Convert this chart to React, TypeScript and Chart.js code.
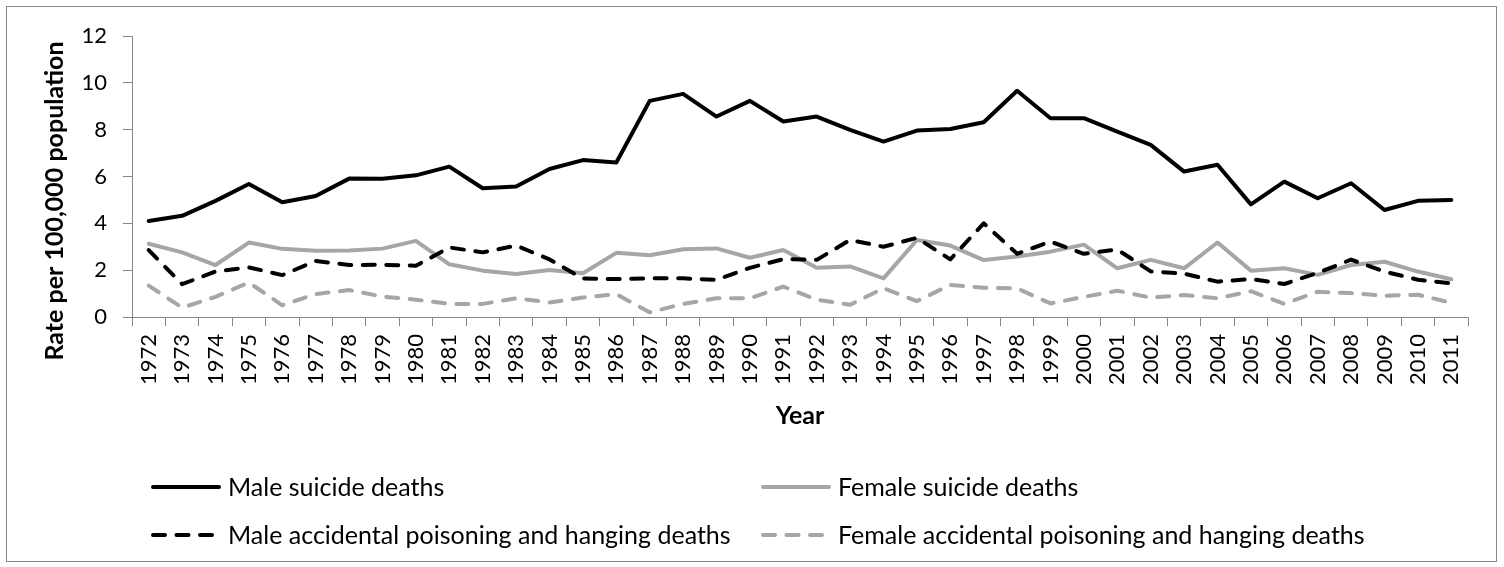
import React, { useEffect, useRef } from "react";
import { Chart, registerables } from "chart.js";

Chart.register(...registerables);

const years = [
  "1972", "1973", "1974", "1975", "1976", "1977", "1978", "1979", "1980", "1981",
  "1982", "1983", "1984", "1985", "1986", "1987", "1988", "1989", "1990", "1991",
  "1992", "1993", "1994", "1995", "1996", "1997", "1998", "1999", "2000", "2001",
  "2002", "2003", "2004", "2005", "2006", "2007", "2008", "2009", "2010", "2011",
];

const maleSuicide = [
  4.1, 4.32, 4.96, 5.68, 4.9, 5.17, 5.91, 5.9, 6.05, 6.42,
  5.5, 5.57, 6.32, 6.7, 6.6, 9.23, 9.53, 8.56, 9.23, 8.35,
  8.56, 7.99, 7.49, 7.96, 8.03, 8.32, 9.66, 8.49, 8.49, 7.92,
  7.35, 6.21, 6.5, 4.81, 5.78, 5.07, 5.71, 4.57, 4.96, 5.0,
];

const femaleSuicide = [
  3.13, 2.76, 2.22, 3.18, 2.91, 2.83, 2.84, 2.92, 3.25, 2.25,
  1.98, 1.84, 2.01, 1.87, 2.74, 2.64, 2.89, 2.93, 2.53, 2.86,
  2.1, 2.16, 1.65, 3.29, 3.05, 2.43, 2.58, 2.79, 3.09, 2.08,
  2.44, 2.08, 3.18, 1.98, 2.08, 1.8, 2.22, 2.36, 1.94, 1.61,
];

const maleAccidental = [
  2.86, 1.4, 1.94, 2.12, 1.79, 2.39, 2.22, 2.23, 2.19, 2.97,
  2.76, 3.05, 2.46, 1.64, 1.62, 1.65, 1.65, 1.59, 2.1, 2.47,
  2.44, 3.29, 3.0, 3.38, 2.46, 4.0, 2.7, 3.22, 2.7, 2.88,
  1.95, 1.85, 1.51, 1.62, 1.41, 1.88, 2.45, 1.94, 1.59, 1.44,
];

const femaleAccidental = [
  1.34, 0.4, 0.86, 1.47, 0.5, 0.98, 1.15, 0.87, 0.74, 0.56,
  0.56, 0.8, 0.62, 0.83, 0.98, 0.2, 0.56, 0.8, 0.8, 1.3,
  0.74, 0.52, 1.23, 0.68, 1.37, 1.25, 1.22, 0.58, 0.86, 1.12,
  0.83, 0.94, 0.8, 1.1, 0.56, 1.08, 1.02, 0.91, 0.95, 0.61,
];

const seriesNames = [
  "Male suicide deaths",
  "Female suicide deaths",
  "Male accidental poisoning and hanging deaths",
  "Female accidental poisoning and hanging deaths",
];

const yTicks = [0, 2, 4, 6, 8, 10, 12];

const BLACK = "#000000";
const GRAY = "#A6A6A6";
const AXIS = "#868686";
const FONT = "Lato, 'Open Sans', sans-serif";
const DASH = [12, 11.5];

const seriesStyles = [
  { color: BLACK, dash: [] as number[] },
  { color: GRAY, dash: [] as number[] },
  { color: BLACK, dash: DASH },
  { color: GRAY, dash: DASH },
];

const decorPlugin = {
  id: "decor",
  beforeDraw(chart: any) {
    const ctx = chart.ctx;
    ctx.save();
    ctx.fillStyle = "#ffffff";
    ctx.fillRect(0, 0, chart.width, chart.height);
    ctx.strokeStyle = AXIS;
    ctx.lineWidth = 1;
    ctx.strokeRect(6.5, 6.5, 1490, 555);
    ctx.restore();
  },
  afterDraw(chart: any) {
    const ctx = chart.ctx;
    const area = chart.chartArea;
    ctx.save();
    ctx.fillStyle = "#000000";
    ctx.font = `bold 25px ${FONT}`;
    ctx.textAlign = "center";
    ctx.textBaseline = "middle";
    // y title
    ctx.save();
    ctx.translate(55, 201);
    ctx.rotate(-Math.PI / 2);
    ctx.fillText("Rate per 100,000 population", 0, 0);
    ctx.restore();
    // x title
    ctx.fillText("Year", (area.left + area.right) / 2, 416);

    // legend
    const cols = [151, 761];
    const rows = [487, 535];
    ctx.font = `25px ${FONT}`;
    ctx.textAlign = "left";
    seriesNames.forEach((name, i) => {
      const cx = cols[i % 2];
      const cy = rows[Math.floor(i / 2)];
      const st = seriesStyles[i];
      ctx.save();
      ctx.strokeStyle = st.color;
      ctx.lineWidth = 4;
      ctx.lineCap = "round";
      ctx.setLineDash(st.dash);
      ctx.beginPath();
      if (st.dash.length) {
        ctx.moveTo(cx + 2, cy);
        ctx.lineTo(cx + 61, cy);
      } else {
        ctx.moveTo(cx + 2, cy);
        ctx.lineTo(cx + 68, cy);
      }
      ctx.stroke();
      ctx.restore();
      ctx.fillText(name, cx + 77, cy + 1);
    });
    ctx.restore();
  },
};

export default function App() {
  const ref = useRef<HTMLCanvasElement | null>(null);

  useEffect(() => {
    if (!ref.current) return;
    const data = [maleSuicide, femaleSuicide, maleAccidental, femaleAccidental];
    const chart = new Chart(ref.current, {
      type: "line",
      data: {
        labels: years,
        datasets: data.map((d, i) => ({
          label: seriesNames[i],
          data: d,
          borderColor: seriesStyles[i].color,
          backgroundColor: seriesStyles[i].color,
          borderWidth: 4,
          borderDash: seriesStyles[i].dash,
          borderCapStyle: "round",
          borderJoinStyle: "round",
          pointRadius: 0,
          pointHoverRadius: 0,
          tension: 0,
          fill: false,
          order: 3 - i,
        })),
      },
      options: {
        animation: false,
        responsive: true,
        maintainAspectRatio: false,
        layout: { padding: { left: 0, right: 36, top: 36, bottom: 170 } },
        plugins: {
          legend: { display: false },
          tooltip: { enabled: false },
          title: { display: false },
        },
        scales: {
          x: {
            type: "category",
            offset: true,
            afterFit: (s: any) => {
              s.height = 80;
            },
            grid: {
              offset: true,
              drawOnChartArea: false,
              drawTicks: true,
              tickLength: 9,
              color: AXIS,
              lineWidth: 1,
            },
            border: { display: true, color: AXIS, width: 1 },
            ticks: {
              autoSkip: false,
              maxRotation: 90,
              minRotation: 90,
              padding: 8,
              color: "#000000",
              font: { family: FONT, size: 22 },
            },
          },
          y: {
            min: 0,
            max: 12,
            afterFit: (s: any) => {
              s.width = 132;
            },
            afterBuildTicks: (s: any) => {
              s.ticks = yTicks.map((v) => ({ value: v }));
            },
            grid: {
              drawOnChartArea: false,
              drawTicks: true,
              tickLength: 9,
              color: AXIS,
              lineWidth: 1,
            },
            border: { display: true, color: AXIS, width: 1 },
            ticks: {
              padding: 16,
              color: "#000000",
              font: { family: FONT, size: 22 },
            },
          },
        },
      },
      plugins: [decorPlugin],
    });
    return () => chart.destroy();
  }, []);

  return (
    <div
      style={{
        position: "fixed",
        left: 0,
        top: 0,
        width: 1504,
        height: 567,
        background: "#ffffff",
      }}
    >
      <canvas ref={ref} />
    </div>
  );
}
